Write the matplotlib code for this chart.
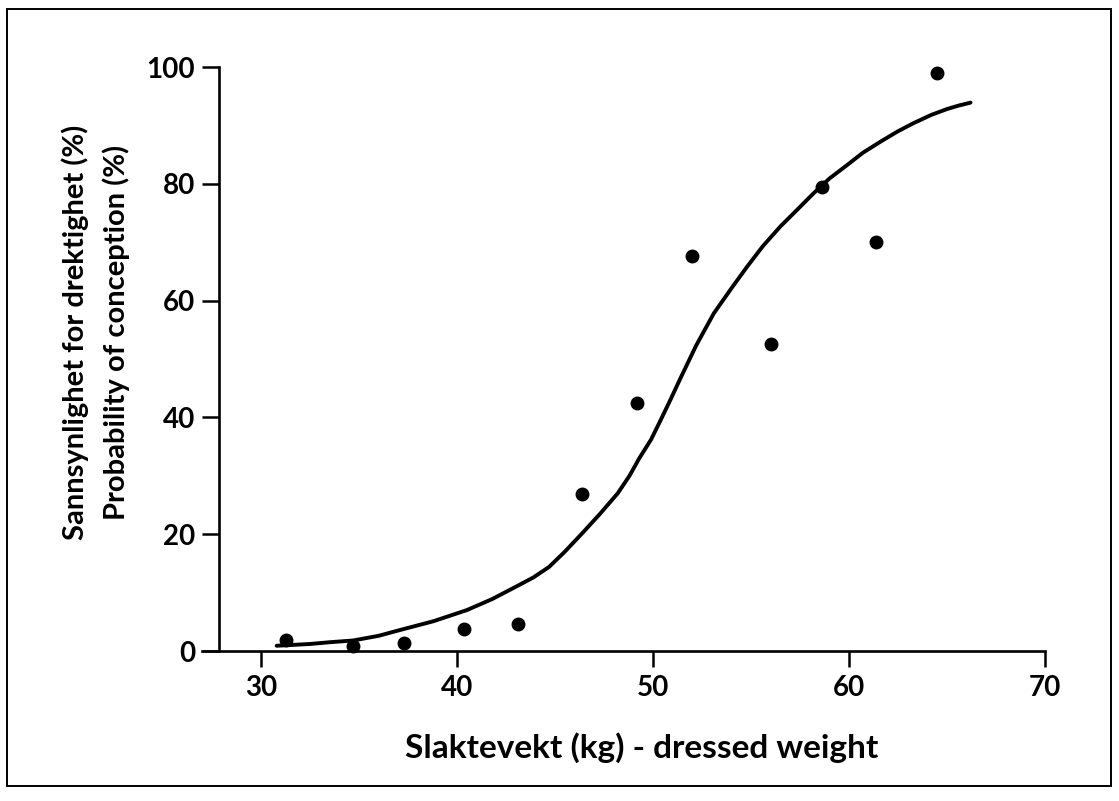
import matplotlib
matplotlib.use("Agg")
import matplotlib.pyplot as plt
from matplotlib.patches import Rectangle

# ---- data ----
weight_obs = [31.3, 34.7, 37.3, 40.35, 43.1, 46.4, 49.2, 52.0, 56.0, 58.6, 61.4, 64.5]
prob_obs = [1.8, 0.85, 1.3, 3.7, 4.7, 26.9, 42.4, 67.7, 52.5, 79.5, 70.0, 98.9]

curve_x = [30.8, 32.5, 33.5, 34.7, 36.0, 37.1, 38.8, 40.5, 41.8, 43.0, 43.9,
           44.7, 45.5, 46.4, 47.3, 48.2, 48.8, 49.3, 49.9, 50.4, 50.9, 51.4,
           52.2, 53.1, 54.0, 54.8, 55.6, 56.5, 57.4, 58.2, 59.0, 59.9, 60.7,
           61.6, 62.5, 63.3, 64.2, 65.0, 65.6, 66.2]
curve_y = [0.9, 1.2, 1.5, 1.8, 2.6, 3.6, 5.1, 7.0, 8.9, 11.0, 12.6,
           14.4, 17.0, 20.2, 23.5, 27.0, 30.0, 33.0, 36.2, 39.6, 43.1, 46.7,
           52.3, 57.8, 62.1, 65.8, 69.3, 72.7, 75.7, 78.4, 80.9, 83.2, 85.3,
           87.2, 89.0, 90.4, 91.8, 92.8, 93.4, 93.9]

x_ticks = [30, 40, 50, 60, 70]
y_ticks = [0, 20, 40, 60, 80, 100]

x_label = "Slaktevekt (kg) - dressed weight"
y_label = "Sannsynlighet for drektighet (%)\nProbability of conception (%)"

# ---- figure ----
W, H = 1119, 801
fig = plt.figure(figsize=(W / 100, H / 100), dpi=100)
plt.rcParams['font.family'] = ['Lato', 'DejaVu Sans']

ax = fig.add_axes([202 / W, 1 - 651 / H, (1045 - 202) / W, (651 - 67) / H])
ax.set_xlim(26.99, 70)
ax.set_ylim(0, 100)

ax.plot(curve_x, curve_y, color='black', lw=2.8, solid_capstyle='round',
        solid_joinstyle='round', clip_on=False, zorder=3)
ax.plot(weight_obs, prob_obs, 'o', color='black', ms=9, clip_on=False, zorder=4)

for s in ['top', 'right']:
    ax.spines[s].set_visible(False)
ax.spines['left'].set_position(('data', 27.857))
ax.spines['left'].set_linewidth(1.9)
ax.spines['bottom'].set_linewidth(1.9)

ax.set_xticks(x_ticks)
ax.set_yticks(y_ticks)
ax.set_xticklabels([str(v) for v in x_ticks])
ax.set_yticklabels([str(v) for v in y_ticks])
ax.tick_params(axis='x', direction='out', length=11.5, width=1.8, pad=6,
               labelsize=20)
ax.tick_params(axis='y', direction='out', length=12.2, width=1.8, pad=5,
               labelsize=20)
for lab in ax.get_xticklabels() + ax.get_yticklabels():
    lab.set_fontweight('bold')

fig.text(642 / W, 1 - 758 / H, x_label, ha='center', va='baseline',
         fontsize=24, fontweight='bold')
fig.text(95.5 / W, 1 - 332 / H, y_label, ha='center', va='center',
         rotation=90, multialignment='center', fontsize=21,
         fontweight='bold', linespacing=1.6)

fig.patches.append(Rectangle((7 / W, 1 - 786 / H), (1111 - 7) / W, (786 - 9) / H,
                             transform=fig.transFigure, fill=False,
                             edgecolor='black', lw=1.4))

fig.savefig("out.png", dpi=100, facecolor='white')
